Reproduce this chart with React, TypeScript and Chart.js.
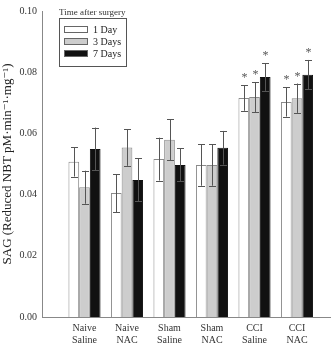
import React, { useEffect, useRef } from "react";
import { Chart, registerables } from "chart.js";

Chart.register(...registerables);

// Treatment groups (x positions 1..6 on a linear axis)
const groups: string[][] = [
  ["Naive", "Saline"],
  ["Naive", "NAC"],
  ["Sham", "Saline"],
  ["Sham", "NAC"],
  ["CCI", "Saline"],
  ["CCI", "NAC"],
];

const seriesLabels = ["1 Day", "3 Days", "7 Days"];

// Mean SAG values per group
const day1 = [0.0507, 0.0405, 0.0516, 0.0497, 0.0716, 0.0703];
const day3 = [0.0424, 0.0554, 0.0579, 0.0497, 0.0719, 0.0715];
const day7 = [0.0549, 0.0448, 0.0497, 0.0553, 0.0784, 0.0792];

// Standard errors
const err1 = [0.0048, 0.0062, 0.007, 0.0068, 0.0042, 0.0048];
const err3 = [0.0054, 0.006, 0.0067, 0.0068, 0.0049, 0.0048];
const err7 = [0.007, 0.007, 0.0054, 0.0055, 0.0045, 0.0048];

// Significance markers
const sig1 = [false, false, false, false, true, true];
const sig3 = [false, false, false, false, true, true];
const sig7 = [false, false, false, false, true, true];

const yTicks = [0, 0.02, 0.04, 0.06, 0.08, 0.1];

const fills = ["#ffffff", "#cdcdcd", "#111111"];
const SERIF = "'Liberation Serif', 'DejaVu Serif', serif";

const errs = [err1, err3, err7];
const sigs = [sig1, sig3, sig7];

const errorBarPlugin = {
  id: "errorBars",
  afterDatasetsDraw(chart: any) {
    const ctx = chart.ctx;
    const y = chart.scales.y;
    ctx.save();
    chart.data.datasets.forEach((ds: any, di: number) => {
      const meta = chart.getDatasetMeta(di);
      meta.data.forEach((bar: any, i: number) => {
        const v = ds.data[i].y;
        const e = errs[di][i];
        const top = y.getPixelForValue(v + e);
        const bot = y.getPixelForValue(v - e);
        const x = Math.round(bar.x) + 0.5;
        ctx.strokeStyle = "#555555";
        ctx.lineWidth = 1;
        ctx.beginPath();
        ctx.moveTo(x, top);
        ctx.lineTo(x, bot);
        ctx.moveTo(x - 3.5, Math.round(top) + 0.5);
        ctx.lineTo(x + 3.5, Math.round(top) + 0.5);
        ctx.moveTo(x - 3.5, Math.round(bot) + 0.5);
        ctx.lineTo(x + 3.5, Math.round(bot) + 0.5);
        ctx.stroke();
        if (sigs[di][i]) {
          ctx.fillStyle = "#555555";
          ctx.font = `12px ${SERIF}`;
          ctx.textAlign = "center";
          ctx.textBaseline = "middle";
          ctx.fillText("*", x, top - 7);
        }
      });
    });
    ctx.restore();
  },
};

const legendPlugin = {
  id: "boxLegend",
  afterDraw(chart: any) {
    const ctx = chart.ctx;
    ctx.save();
    ctx.fillStyle = "#333333";
    ctx.font = `9px ${SERIF}`;
    ctx.textAlign = "left";
    ctx.textBaseline = "middle";
    ctx.fillText("Time after surgery", 59, 13);
    ctx.strokeStyle = "#555555";
    ctx.lineWidth = 1;
    ctx.strokeRect(59.5, 18.5, 67, 48);
    ctx.font = `10px ${SERIF}`;
    seriesLabels.forEach((lab, i) => {
      const cy = 30 + i * 12;
      ctx.fillStyle = fills[i];
      ctx.fillRect(64.5, cy - 3.5, 23, 6);
      ctx.strokeStyle = "#666666";
      ctx.strokeRect(64.5, cy - 3.5, 23, 6);
      ctx.fillStyle = "#222222";
      ctx.fillText(lab, 93, cy);
    });
    ctx.restore();
  },
};

export default function App() {
  const ref = useRef<HTMLCanvasElement | null>(null);

  useEffect(() => {
    if (!ref.current) return;
    const series = [day1, day3, day7];
    const chart = new Chart(ref.current, {
      type: "bar",
      data: {
        datasets: series.map((vals, di) => ({
          label: seriesLabels[di],
          data: vals.map((v, i) => ({ x: i + 1, y: v })),
          backgroundColor: fills[di],
          borderColor: di === 2 ? "#111111" : "#8a8a8a",
          borderWidth: 1,
          barPercentage: 1,
          categoryPercentage: 0.755,
        })),
      },
      options: {
        animation: false,
        responsive: false,
        maintainAspectRatio: false,
        layout: { padding: { top: 4, right: 0, left: 0, bottom: 0 } },
        plugins: {
          legend: { display: false },
          tooltip: { enabled: false },
        },
        scales: {
          x: {
            type: "linear",
            offset: false,
            min: 0,
            max: 6.8,
            grid: { display: false, drawTicks: false },
            border: { display: true, color: "#888888", width: 1 },
            afterBuildTicks(scale: any) {
              scale.ticks = groups.map((_, i) => ({ value: i + 1 }));
            },
            afterFit(scale: any) {
              scale.height = 29;
            },
            ticks: {
              autoSkip: false,
              maxRotation: 0,
              padding: 6,
              color: "#333333",
              font: { family: SERIF, size: 10, lineHeight: 1.15 },
              callback: (v: any) => {
                const i = Math.round(Number(v)) - 1;
                return groups[i] ? groups[i] : "";
              },
            },
          },
          y: {
            min: 0,
            max: 0.1,
            grid: { display: false, drawTicks: false },
            border: { display: true, color: "#888888", width: 1 },
            afterBuildTicks(scale: any) {
              scale.ticks = yTicks.map((v) => ({ value: v }));
            },
            afterFit(scale: any) {
              scale.width = 42;
            },
            ticks: {
              padding: 5,
              color: "#333333",
              font: { family: SERIF, size: 10 },
              callback: (v: any) => Number(v).toFixed(2),
            },
            title: {
              display: true,
              text: "SAG (Reduced NBT pM·min⁻¹·mg⁻¹)",
              color: "#222222",
              font: { family: SERIF, size: 13 },
              padding: { top: 0, bottom: 0 },
            },
          },
        },
      },
      plugins: [errorBarPlugin, legendPlugin],
    });
    return () => chart.destroy();
  }, []);

  return (
    <div style={{ position: "fixed", left: 0, top: 0, width: 331, height: 346, background: "#fff" }}>
      <canvas ref={ref} width={331} height={346} style={{ width: 331, height: 346 }} />
    </div>
  );
}
